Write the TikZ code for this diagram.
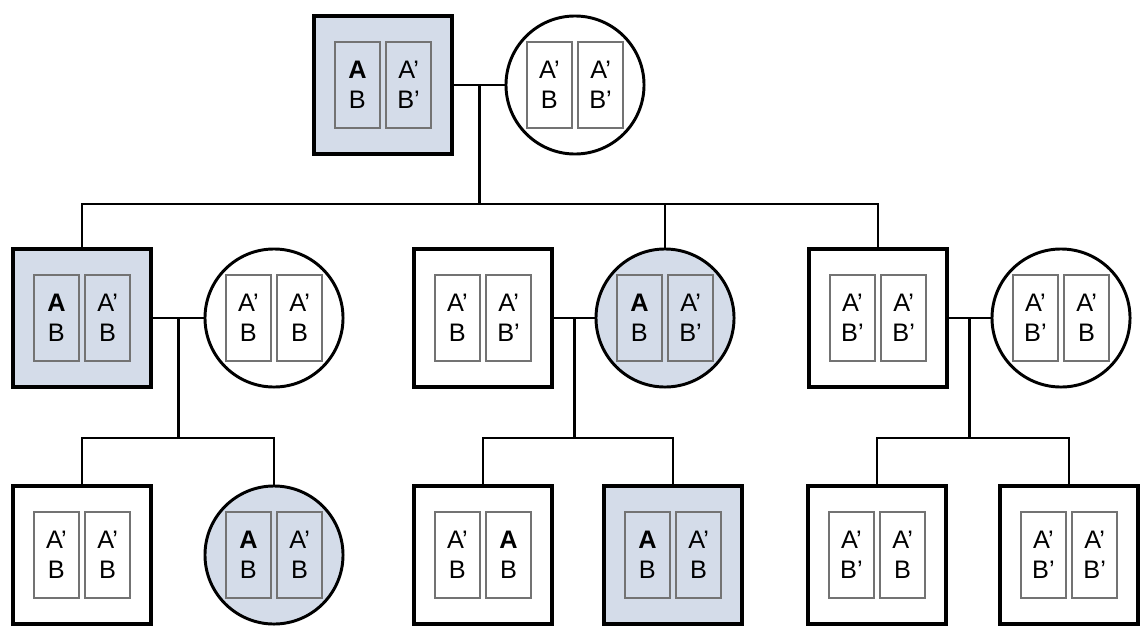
\documentclass[tikz,border=0pt]{standalone}
\usepackage{fontspec}
\setmainfont{Liberation Sans}
\usepackage{tikz}
\usetikzlibrary{calc,positioning}
\definecolor{hitblue}{HTML}{D4DCE9}
\tikzset{
	box/.style={draw, line width=2.4pt, minimum size=3.45cm, inner sep=0pt},
	ring/.style={draw, circle, line width=2.1pt, minimum size=3.45cm, inner sep=0pt},
	hit/.style={fill=hitblue},
	cell/.style={draw=black!55, line width=1.3pt, minimum width=1.125cm, minimum height=2.15cm, inner sep=0pt, align=center, font=\fontsize{18}{21.5}\selectfont},
	link/.style={line width=2pt},
}

\begin{document}
\begin{tikzpicture}[x=0.025cm, y=-0.025cm]
		\useasboundingbox (0,0) rectangle (1148,625);
		% top pair
		\node[box, hit] at (383,85) (t) {};
		\node[ring] at (575,85) (tc) {};
		% middle row
		\node[box, hit] at (82,318) (ls) {};
		\node[ring] at (274,318) (lc) {};
		\node[box] at (483,318) (ms) {};
		\node[ring, hit] at (665,318) (mc) {};
		\node[box] at (878,318) (rs) {};
		\node[ring] at (1061,318) (rc) {};
		% bottom row
		\node[box] at (82,555) (lls) {};
		\node[ring, hit] at (274,555) (llc) {};
		\node[box] at (483,555) (mls) {};
		\node[box, hit] at (673,555) (mrs) {};
		\node[box] at (877,555) (rls) {};
		\node[box] at (1069,555) (rrs) {};
		\foreach \n/\l/\r in {t/{\textbf{A}\\B}/{A'\\B'}, tc/{A'\\B}/{A'\\B'},
			ls/{\textbf{A}\\B}/{A'\\B}, lc/{A'\\B}/{A'\\B},
			ms/{A'\\B}/{A'\\B'}, mc/{\textbf{A}\\B}/{A'\\B'},
			rs/{A'\\B'}/{A'\\B'}, rc/{A'\\B'}/{A'\\B},
			lls/{A'\\B}/{A'\\B}, llc/{\textbf{A}\\B}/{A'\\B},
			mls/{A'\\B}/{\textbf{A}\\B}, mrs/{\textbf{A}\\B}/{A'\\B},
			rls/{A'\\B'}/{A'\\B}, rrs/{A'\\B'}/{A'\\B'}}{
			\node[cell, xshift=-0.64cm] at (\n) (\n-l) {\l};
			\node[cell, xshift=0.64cm] at (\n) (\n-r) {\r};
		}
		\coordinate (b1) at (0,204);
		\coordinate (b2) at (0,438);
		\draw[link] (t.east) -- coordinate (tj) (tc.west);
		\draw[link] (tj) -- (tj |- b1);
		\draw[link] (ls.north) |- (rs.north |- b1) -- (rs.north);
		\draw[link] (mc.north) -- (mc.north |- b1);
		\foreach \s/\c/\j in {ls/lc/lj, ms/mc/mj, rs/rc/rj}{
			\draw[link] (\s.east) -- coordinate (\j) (\c.west);
			\draw[link] (\j) -- (\j |- b2);
		}
		\foreach \a/\b in {lls/llc, mls/mrs, rls/rrs}{
			\draw[link] (\a.north) |- (\b.north |- b2) -- (\b.north);
		}
\end{tikzpicture}
\end{document}
